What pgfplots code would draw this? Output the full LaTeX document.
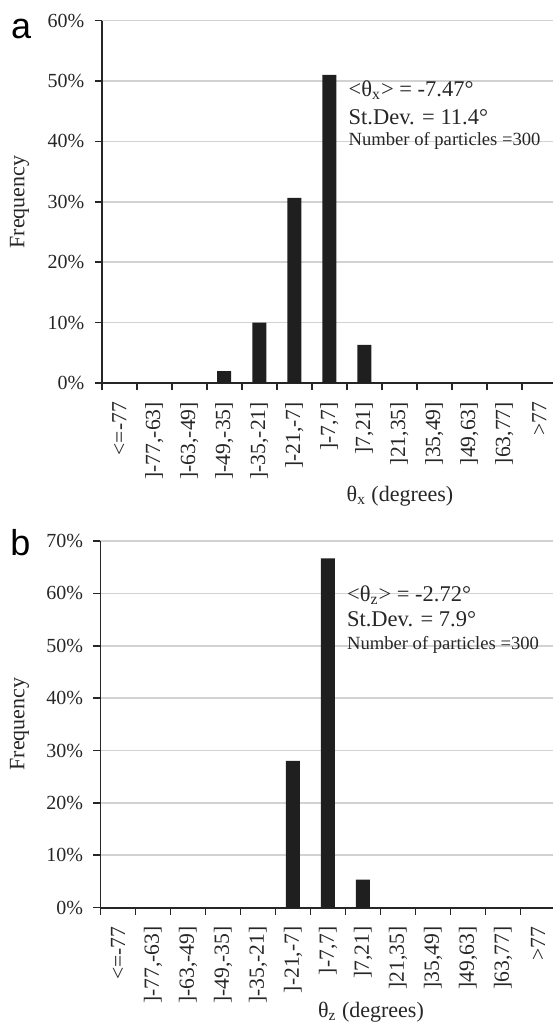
\documentclass[border=0pt]{standalone}
\usepackage{fontspec}
\setmainfont{Liberation Serif}
\newfontfamily\arial{Liberation Sans}
\usepackage{pgfplots}
\pgfplotsset{compat=1.18}
\pgfplotsset{
  hist/.style={
    scale only axis, anchor=south west,
    axis x line=bottom, axis y line=left,
    axis line style={-, draw=black!85, line width=0.9pt},
    xmin=-0.5, ymin=0,
    xtick={-0.5,0.5,...,11.5}, xticklabels={},
    extra x ticks={0,...,12},
    extra x tick labels={{<=-77},{]-77,-63]},{]-63,-49]},{]-49,-35]},{]-35,-21]},{]-21,-7]},{]-7,7]},{]7,21]},{]21,35]},{]35,49]},{]49,63]},{]63,77]},{>77}},
    extra x tick style={major tick length=0pt,
      xticklabel style={yshift=-9.3pt, rotate=90, anchor=east, inner sep=0pt, font=\fontsize{10.8}{13}\selectfont}},
    tick align=outside, major tick length=3.5pt,
    tick style={draw=black!85, line width=0.8pt},
    ymajorgrids, major grid style={draw=gray!35, line width=0.8pt},
    yticklabel={\pgfmathprintnumber{\tick}\%},
    yticklabel style={inner sep=0pt, xshift=-5pt},
    /pgf/number format/assume math mode=true,
    tick label style={font=\fontsize{10}{12}\selectfont, text=black!85},
  }
}
\begin{document}
\begin{tikzpicture}
\useasboundingbox (0,0) rectangle (276.5pt,512.5pt);
% panel a
\begin{axis}[hist, at={(50.85pt,320.95pt)}, width=225.65pt, height=181.25pt,
  xmax=12.39, ymax=60, ytick={0,10,...,60}]
\addplot[ybar, fill=black!88, draw=none, bar width=0.4] coordinates {
(0,0) (1,0) (2,0) (3,2) (4,10) (5,30.67) (6,51) (7,6.33) (8,0) (9,0) (10,0) (11,0) (12,0)};
\end{axis}
% panel b
\begin{axis}[hist, at={(50.25pt,58.7pt)}, width=226.25pt, height=183.3pt,
  xmax=12.43, ymax=70, ytick={0,10,...,70}]
\addplot[ybar, fill=black!88, draw=none, bar width=0.4] coordinates {
(0,0) (1,0) (2,0) (3,0) (4,0) (5,28) (6,66.67) (7,5.33) (8,0) (9,0) (10,0) (11,0) (12,0)};
\end{axis}
% panel letters
\node[anchor=base west, inner sep=0pt, font=\arial\fontsize{18}{20}\selectfont] at (5.4pt,493.35pt) {a};
\node[anchor=base west, inner sep=0pt, font=\arial\fontsize{18}{20}\selectfont] at (5pt,234.65pt) {b};
% y labels
\node[rotate=90, inner sep=0pt, font=\fontsize{11}{13}\selectfont, text=black!85] at (9.75pt,411.5pt) {Frequency};
\node[rotate=90, inner sep=0pt, font=\fontsize{11}{13}\selectfont, text=black!85] at (9.75pt,150.5pt) {Frequency};
% x titles
\node[anchor=base, inner sep=0pt, font=\fontsize{11}{13}\selectfont, text=black!85] at (200pt,261.65pt) {θ\textsubscript{x} (degrees)};
\node[anchor=base, inner sep=0pt, font=\fontsize{11}{13}\selectfont, text=black!85] at (185.5pt,4pt) {θ\textsubscript{z} (degrees)};
% annotations a
\node[anchor=base west, inner sep=0pt, font=\fontsize{11.25}{13}\selectfont, text=black!85] at (174.15pt,464.15pt) {<θ\textsubscript{x}> = -7.47°};
\node[anchor=base west, inner sep=0pt, font=\fontsize{11.25}{13}\selectfont, text=black!85] at (174.15pt,450.35pt) {St.Dev. = 11.4°};
\node[anchor=base west, inner sep=0pt, font=\fontsize{9.3}{11}\selectfont, text=black!85] at (174.15pt,439.5pt) {Number of particles =300};
% annotations b
\node[anchor=base west, inner sep=0pt, font=\fontsize{11.25}{13}\selectfont, text=black!85] at (173.35pt,211.65pt) {<θ\textsubscript{z}> = -2.72°};
\node[anchor=base west, inner sep=0pt, font=\fontsize{11.25}{13}\selectfont, text=black!85] at (173.35pt,199.15pt) {St.Dev. = 7.9°};
\node[anchor=base west, inner sep=0pt, font=\fontsize{9.3}{11}\selectfont, text=black!85] at (173.35pt,187.5pt) {Number of particles =300};
\end{tikzpicture}
\end{document}
